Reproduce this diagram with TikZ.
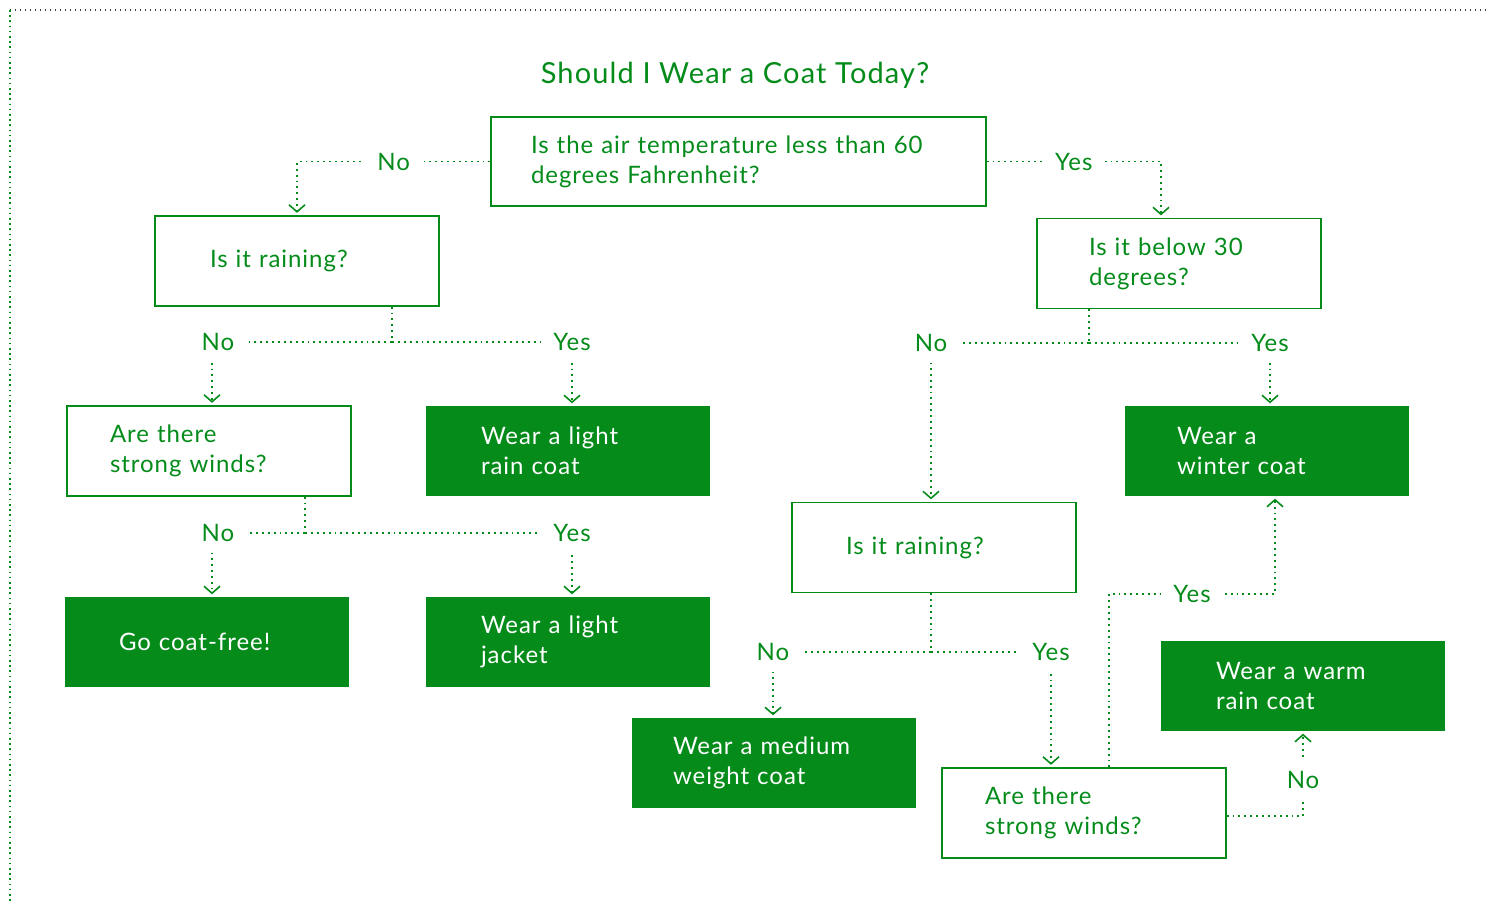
\documentclass[tikz,border=0pt]{standalone}
\usepackage{fontspec}
\setmainfont[LetterSpace=4]{Lato}
\usetikzlibrary{arrows.meta,calc}
\definecolor{G}{RGB}{4,139,26}
\newcommand\bodyfont{\fontsize{24}{30}\selectfont}
\tikzset{
  qbox/.style={draw=G, line width=1.3pt, minimum width=284pt, minimum height=90pt,
    text=G, align=left, font=\bodyfont, inner ysep=0pt},
  abox/.style={fill=G, draw=none, minimum width=284pt, minimum height=90pt,
    text=white, align=left, font=\bodyfont, inner ysep=0pt},
  dots/.style={draw=G, line width=1.9pt, dash pattern=on 1.9pt off 4pt},
  conn/.style={dots, -{Straight Barb[length=7pt,width=16pt,line width=1.6pt]}, shorten >=2.5pt},
  lbl/.style={fill=white, text=G, font=\bodyfont, inner xsep=12pt, inner ysep=11pt},
}
\begin{document}
\begin{tikzpicture}[x=1pt,y=-1pt]
\useasboundingbox (0,0) rectangle (1486,903);
% frame
\draw[line width=1.4pt, draw=black!75, dash pattern=on 1.4pt off 3.6pt] (10,10) -- (1486,10);
\draw[line width=1.6pt, draw=G, dash pattern=on 1.6pt off 3.6pt] (10,10) -- (10,903);

\node[text=G, font=\fontsize{29}{34}\selectfont] (title) at (735,75) {Should I Wear a Coat Today?};

\node[qbox, minimum width=495pt, minimum height=89pt, inner xsep=40pt, text width=415pt] (q1) at (738.5,161.5)
  {Is the air temperature less than 60\\degrees Fahrenheit?};
\node[qbox, inner xsep=55pt, text width=174pt] (q2) at (297,261) {Is it raining?};
\node[qbox, inner xsep=52pt, text width=180pt] (q3) at (1179,263.5) {Is it below 30\\degrees?};
\node[qbox, inner xsep=43pt, text width=198pt] (q4) at (209,451) {Are there\\strong winds?};
\node[abox, inner xsep=55pt, text width=174pt] (a1) at (568,451) {Wear a light\\rain coat};
\node[abox, inner xsep=52pt, text width=180pt] (a2) at (1267,451) {Wear a\\winter coat};
\node[qbox, inner xsep=54pt, text width=176pt] (q5) at (934,547.5) {Is it raining?};
\node[abox, inner xsep=54pt, text width=176pt] (a3) at (207,642) {Go coat-free!};
\node[abox, inner xsep=55pt, text width=174pt] (a4) at (568,642) {Wear a light\\jacket};
\node[abox, inner xsep=55pt, text width=174pt] (a5) at (1303,686) {Wear a warm\\rain coat};
\node[abox, inner xsep=41pt, text width=202pt] (a6) at (774,763) {Wear a medium\\weight coat};
\node[qbox, inner xsep=43pt, text width=198pt] (q6) at (1084,813) {Are there\\strong winds?};

% Q1
\draw[conn] (q1.west) -| node[lbl,pos=0.25]{No} (q2.north);
\draw[conn] (q1.east) -| node[lbl,pos=0.25]{Yes} ($(q3.north)+(-18,0)$);
% Q2
\coordinate (j2) at (392,342);
\draw[dots] (q2.south -| j2) -- (j2);
\draw[conn] ($(j2)+(0,0)$) -| node[lbl, xshift=6pt]{No} ($(q4.north)+(3,0)$);
\draw[conn] (j2) -| node[lbl]{Yes} ($(a1.north)+(4,0)$);
% Q3
\coordinate (j3) at (1089,343);
\draw[dots] (q3.south -| j3) -- (j3);
\draw[conn] (j3) -| node[lbl]{No} ($(q5.north)+(-3,0)$);
\draw[conn] (j3) -| node[lbl]{Yes} ($(a2.north)+(3,0)$);
% Q4
\coordinate (j4) at (305,533);
\draw[dots] (q4.south -| j4) -- (j4);
\draw[conn] (j4) -| node[lbl, xshift=6pt]{No} ($(a3.north)+(5,0)$);
\draw[conn] (j4) -| node[lbl]{Yes} ($(a4.north)+(4,0)$);
% Q5
\coordinate (j5) at (931,652);
\draw[dots] (q5.south -| j5) -- (j5);
\draw[conn] (j5) -| node[lbl]{No} ($(a6.north)+(-1,0)$);
\draw[conn] (j5) -| node[lbl]{Yes} ($(q6.north)+(-33,0)$);
% Q6
\coordinate (k1) at (1275,594);
\draw[conn] ($(q6.north)+(25,0)$) |- node[lbl,pos=0.75]{Yes} (k1) -- ($(a2.south)+(8,0)$);
\draw[conn] ($(q6.east)+(0,3)$) -| node[lbl,pos=0.71]{No} (a5.south);
\end{tikzpicture}
\end{document}
